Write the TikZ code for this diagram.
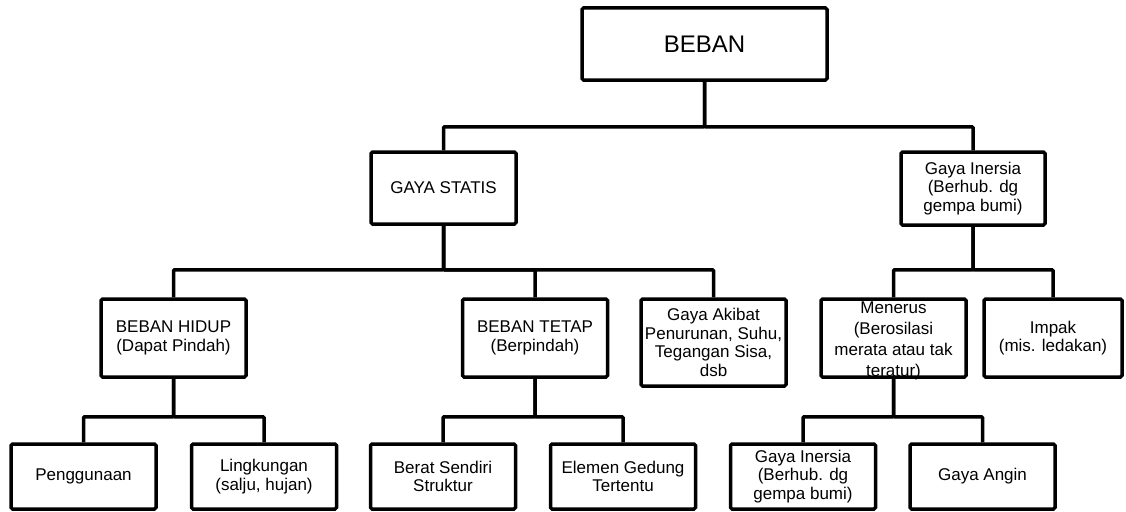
\documentclass[tikz,border=0pt]{standalone}
\usepackage{fontspec}
\setmainfont{Liberation Sans}

\begin{document}
\begin{tikzpicture}[x=1pt,y=-1pt,
    box/.style={draw,line width=3.5pt,rounded corners=1.5pt,align=center,inner sep=2pt,
      minimum width=145pt,minimum height=78pt,font=\fontsize{17}{18.5}\selectfont},
    boxtext/.style={align=center,inner sep=0pt,font=\fontsize{17}{21}\selectfont},
    link/.style={line width=3.5pt,rounded corners=1pt}]
  \useasboundingbox (0,0) rectangle (1126,511);

  % top
  \node[box,minimum width=245pt,minimum height=72pt,font=\fontsize{24}{26}\selectfont]
    (beban) at (704.5,44) {BEBAN};

  % level 1
  \node[box,minimum height=72pt] (statis) at (443.5,188) {GAYA STATIS};
  \node[box,minimum width=144pt,minimum height=73pt] (inersia) at (973,188.5)
    {Gaya Inersia\\(Berhub. dg\\gempa bumi)};

  % level 2
  \node[box] (hidup) at (173.5,338) {BEBAN HIDUP\\(Dapat Pindah)};
  \node[box] (tetap) at (535,338) {BEBAN TETAP\\(Berpindah)};
  \node[box,minimum height=87pt] (akibat) at (713.5,342.5)
    {Gaya Akibat\\Penurunan, Suhu,\\Tegangan Sisa,\\dsb};
  % text runs under the border here
  \node[boxtext] (menerustext) at (893.5,341) {Menerus\\(Berosilasi\\merata atau tak\\teratur)};
  \node[box] (menerus) at (893.5,338) {};
  \node[box,minimum width=138pt] (impak) at (1053,338) {Impak\\(mis. ledakan)};

  % level 3
  \node[box,minimum height=65pt] (guna)    at (83.5,476.5)  {Penggunaan};
  \node[box,minimum height=65pt] (lingk)   at (264,476.5)   {Lingkungan\\(salju, hujan)};
  \node[box,minimum height=65pt] (berat)   at (443,476.5)   {Berat Sendiri\\Struktur};
  \node[box,minimum height=65pt] (elemen)  at (623,476.5)   {Elemen Gedung\\Tertentu};
  \node[box,minimum height=65pt] (inersiab) at (803,476.5)  {Gaya Inersia\\(Berhub. dg\\gempa bumi)};
  \node[box,minimum height=65pt] (angin)   at (982.5,476.5) {Gaya Angin};

  % connectors
  \foreach \child in {statis,inersia}
    \draw[link] (beban.south) -- ++(0,45) -| (\child.north);
  \foreach \child in {hidup,tetap,akibat}
    \draw[link] (statis.south) -- ++(0,44) -| (\child.north);
  \foreach \child in {menerus,impak}
    \draw[link] (inersia.south) -- ++(0,43) -| (\child.north);
  \foreach \child in {guna,lingk}
    \draw[link] (hidup.south) -- ++(0,38) -| (\child.north);
  \foreach \child in {berat,elemen}
    \draw[link] (tetap.south) -- ++(0,38) -| (\child.north);
  \foreach \child in {inersiab,angin}
    \draw[link] (menerus.south) -- ++(0,38) -| (\child.north);

\end{tikzpicture}
\end{document}
